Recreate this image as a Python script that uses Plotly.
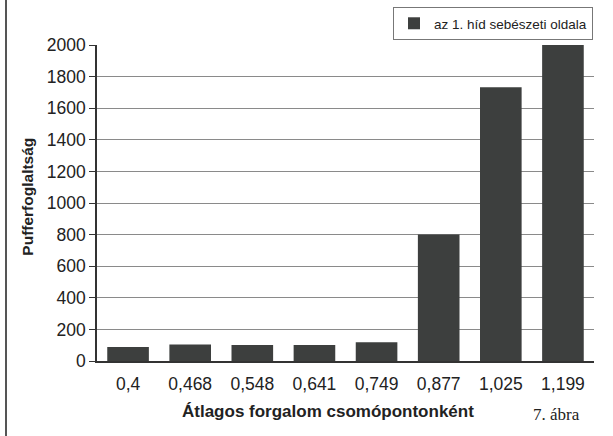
import plotly.graph_objects as go

# values
categories = ["0,4", "0,468", "0,548", "0,641", "0,749", "0,877", "1,025", "1,199"]
buffer_use = [88, 104, 101, 101, 118, 800, 1733, 2000]
series_name = "az 1. híd sebészeti oldala"
y_ticks = list(range(0, 2001, 200))

fig = go.Figure()
fig.add_trace(go.Bar(
    x=categories,
    y=buffer_use,
    name=series_name,
    marker=dict(color="#3d3f3e", line=dict(width=0)),
    showlegend=True,
))

fig.update_layout(
    width=613,
    height=436,
    margin=dict(l=97, r=19, t=45, b=75, autoexpand=False),
    paper_bgcolor="white",
    plot_bgcolor="white",
    font=dict(family="Liberation Sans, Arial, sans-serif", color="#222222", size=17),
    bargap=0.33,
    showlegend=True,
    legend=dict(
        xref="container", yref="container",
        x=593 / 613, y=1 - 7 / 436, xanchor="right", yanchor="top",
        bordercolor="#777777", borderwidth=1,
        font=dict(size=13.5, color="#222222"),
        bgcolor="white",
        itemwidth=30,
    ),
    xaxis=dict(
        showline=True, linecolor="#333333", linewidth=1.5,
        ticks="outside", ticklen=6, tickcolor="rgba(0,0,0,0)",
        tickfont=dict(size=17.5),
        showgrid=False, automargin=False,
    ),
    yaxis=dict(
        range=[0, 2000], tickvals=y_ticks,
        showline=True, linecolor="#333333", linewidth=1.5,
        ticks="outside", ticklen=6, tickcolor="#333333",
        showgrid=True, gridcolor="#8a8a8a", gridwidth=1,
        tickfont=dict(size=17.5),
        zeroline=False, automargin=False,
    ),
    annotations=[
        dict(text="<b>Átlagos forgalom csomópontonként</b>", xref="paper", yref="paper",
             x=(328 - 97) / 497, y=-0.16, xanchor="center", yanchor="middle",
             showarrow=False, font=dict(size=17, color="#222222")),
        dict(text="<b>Pufferfoglaltság</b>", xref="paper", yref="paper",
             x=(28 - 97) / 497, y=0.52, xanchor="center", yanchor="middle",
             textangle=-90, showarrow=False, font=dict(size=15.5, color="#222222")),
        dict(text="7. ábra", xref="paper", yref="paper",
             x=(582 - 97) / 497, y=-0.168, xanchor="right", yanchor="middle",
             showarrow=False,
             font=dict(family="Liberation Serif, Times New Roman, serif", size=17, color="#222222")),
    ],
    shapes=[
        # page frame line at the left edge of the scan
        dict(type="line", xref="paper", yref="paper",
             x0=(6 - 97) / 497, x1=(6 - 97) / 497, y0=-0.25, y1=1.15,
             line=dict(color="#555555", width=2)),
    ],
)

# drop the default body margin so the figure sits at the window origin
fig.write_html("out.html", config={"displayModeBar": False},
               post_script="document.body.style.margin='0';")
